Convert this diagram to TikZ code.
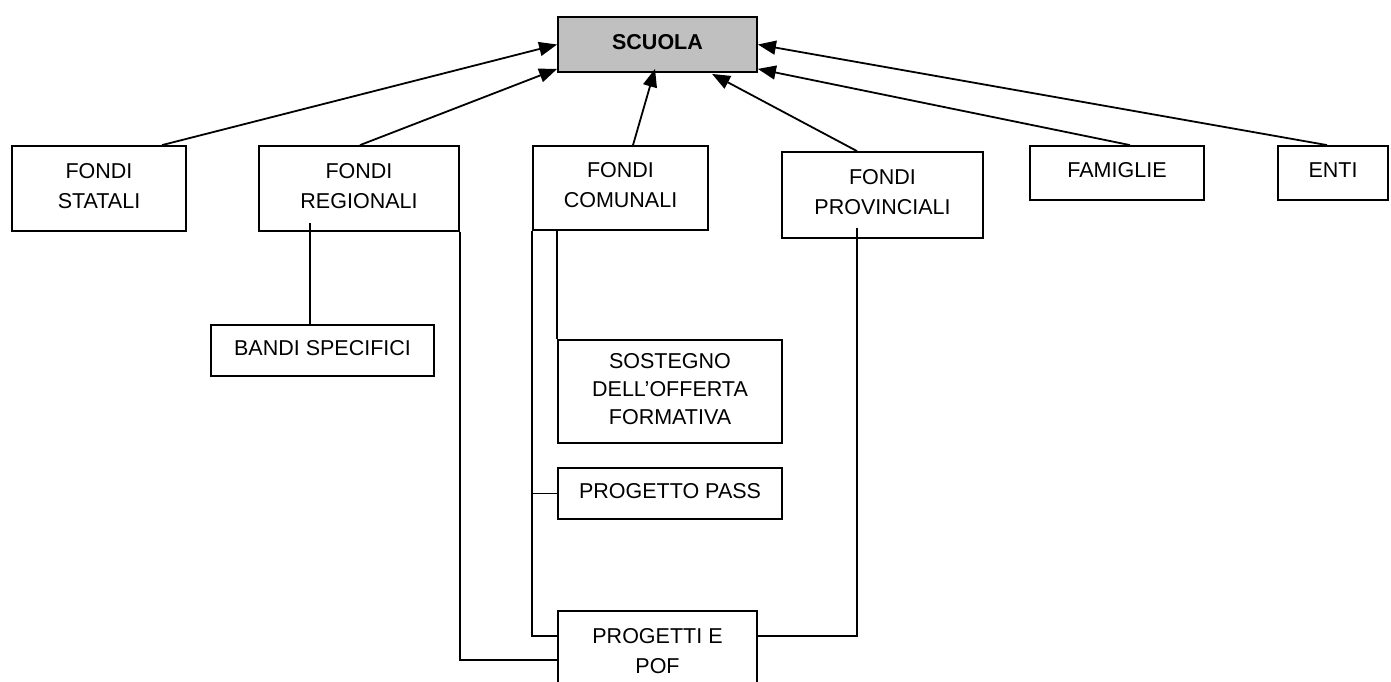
\documentclass[tikz,border=0pt]{standalone}
\usepackage{fontspec}
\setmainfont{Liberation Sans}
\usetikzlibrary{arrows.meta}
\definecolor{boxgray}{HTML}{C0C0C0}
\tikzset{
  box/.style={draw, line width=1.8pt, rectangle, align=center, inner sep=0pt,
    font=\fontsize{21.5}{30}\selectfont, text depth=6pt},
  conn/.style={line width=1.8pt},
  arr/.style={line width=1.8pt, -{Triangle[length=18pt,width=14pt]}}
}
\begin{document}
\begin{tikzpicture}[x=1pt,y=-1pt]
\clip (0,0) rectangle (1391,681);
\fill[white] (0,0) rectangle (1391,681);

\node[box, fill=boxgray, minimum width=199pt, minimum height=55pt, font=\fontsize{21.5}{30}\selectfont\bfseries] (scuola) at (657.5,44.5) {SCUOLA};
\node[box, minimum width=174pt, minimum height=85pt] (statali) at (99,188.5) {FONDI\\STATALI};
\node[box, minimum width=200pt, minimum height=85pt] (regionali) at (359,188.5) {FONDI\\REGIONALI};
\node[box, minimum width=175pt, minimum height=84pt] (comunali) at (620.5,188) {FONDI\\COMUNALI};
\node[box, minimum width=201pt, minimum height=86pt] (provinciali) at (882.5,195) {FONDI\\PROVINCIALI};
\node[box, minimum width=174pt, minimum height=54pt] (famiglie) at (1117,173) {FAMIGLIE};
\node[box, minimum width=110pt, minimum height=54pt] (enti) at (1333,173) {ENTI};
\node[box, minimum width=223pt, minimum height=51pt] (bandi) at (322.5,350.5) {BANDI SPECIFICI};
\node[box, minimum width=224pt, minimum height=103pt, font=\fontsize{21.5}{28}\selectfont] (sostegno) at (670,391.5) {SOSTEGNO\\DELL’OFFERTA\\FORMATIVA};
\node[box, minimum width=224pt, minimum height=51pt] (pass) at (670,493.5) {PROGETTO PASS};
\node[box, minimum width=199pt, minimum height=85pt] (progetti) at (657.5,653.5) {PROGETTI E\\POF};

% arrows to SCUOLA
\draw[arr] ([xshift=63pt]statali.north) -- (scuola.west);
\draw[arr] ([xshift=1pt]regionali.north) -- ([yshift=4pt]scuola.south west);
\draw[arr] ([xshift=12.5pt]comunali.north) -- ([xshift=-2.5pt,yshift=4pt]scuola.south);
\draw[arr] ([xshift=-25.5pt]provinciali.north) -- ([xshift=54.5pt,yshift=-1pt]scuola.south);
\draw[arr] ([xshift=13pt]famiglie.north) -- ([yshift=4pt]scuola.south east);
\draw[arr] ([xshift=-6pt]enti.north) -- (scuola.east);

% orthogonal connectors
\coordinate (bandiTop) at ([xshift=-12.5pt]bandi.north);
\coordinate (regInner) at ([yshift=9pt]regionali.south);
\draw[conn] (bandiTop |- regInner) -- (bandiTop);
\draw[conn] (regionali.south east) |- ([yshift=-50pt]progetti.north west);
\draw[conn] (comunali.south west) |- ([yshift=-26pt]progetti.north west);
\draw[conn] (comunali.south west |- pass.west) -- (pass.west);
\draw[conn] (sostegno.north west |- comunali.south) -- (sostegno.north west);
\coordinate (provDrop) at ([xshift=-25.5pt,yshift=11pt]provinciali.south);
\draw[conn] (provDrop) |- ([yshift=-26pt]progetti.north east);
\end{tikzpicture}
\end{document}
